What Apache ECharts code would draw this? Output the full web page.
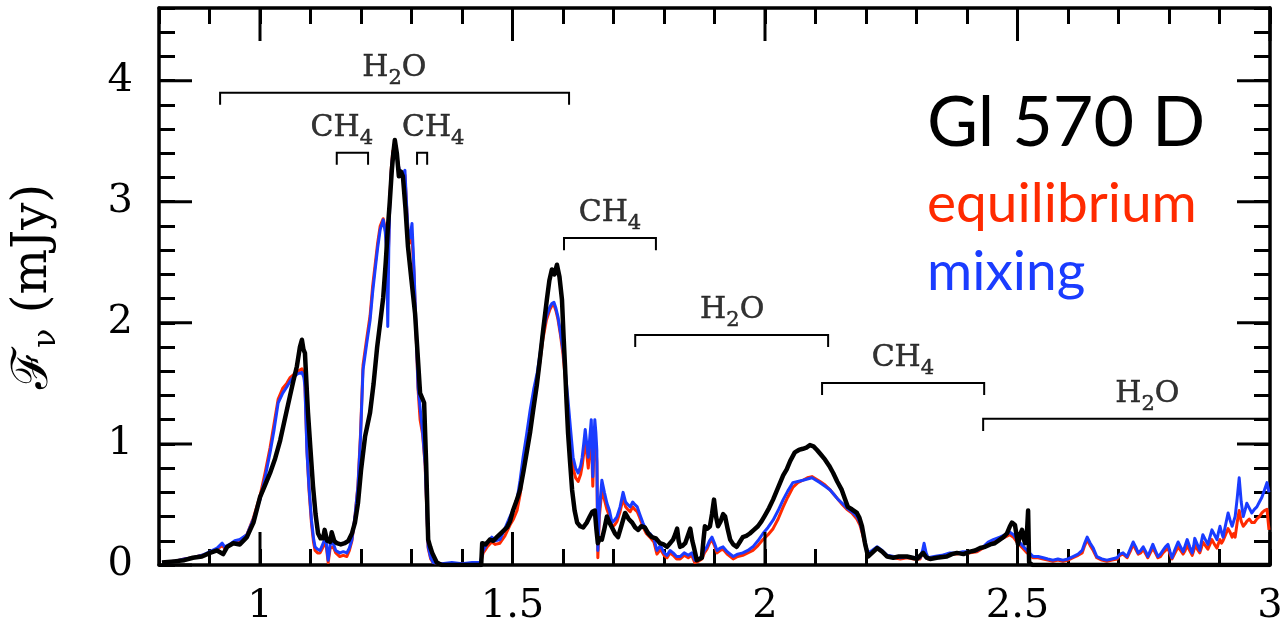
<!DOCTYPE html>
<html>
<head>
<meta charset="utf-8">
<title>Gl 570 D spectrum</title>
<script src="https://cdn.jsdelivr.net/npm/echarts@6/dist/echarts.min.js"></script>
<style>
  html, body { margin: 0; padding: 0; background: #fff; }
  #chart { width: 1287px; height: 636px; }
</style>
</head>
<body>
<div id="chart"></div>
<script>
// Wavelength (micron) / flux density (mJy) pairs
const observed = [
  [0.806,0.02],[0.830,0.03],[0.850,0.04],[0.867,0.06],[0.885,0.07],[0.901,0.10],[0.915,0.12],[0.927,0.09],
  [0.935,0.15],[0.947,0.18],[0.960,0.17],[0.974,0.23],[0.987,0.35],[1.000,0.56],[1.010,0.66],[1.020,0.76],
  [1.030,0.88],[1.040,1.03],[1.050,1.22],[1.059,1.39],[1.066,1.52],[1.073,1.64],[1.079,1.80],[1.083,1.86],
  [1.086,1.78],[1.089,1.75],[1.092,1.50],[1.095,1.26],[1.100,0.95],[1.105,0.65],[1.110,0.42],[1.115,0.26],
  [1.120,0.22],[1.125,0.22],[1.128,0.29],[1.133,0.20],[1.139,0.19],[1.142,0.27],[1.147,0.20],[1.152,0.18],
  [1.160,0.17],[1.168,0.18],[1.175,0.20],[1.182,0.26],[1.188,0.35],[1.194,0.51],[1.200,0.78],[1.208,1.06],
  [1.218,1.26],[1.225,1.50],[1.232,1.80],[1.238,2.00],[1.244,2.21],[1.249,2.50],[1.253,2.77],[1.257,3.00],
  [1.261,3.26],[1.264,3.40],[1.267,3.51],[1.271,3.40],[1.275,3.21],[1.279,3.25],[1.283,3.21],[1.288,2.95],
  [1.293,2.63],[1.300,2.35],[1.307,2.08],[1.312,1.75],[1.317,1.42],[1.321,1.38],[1.325,1.34],[1.329,0.84],
  [1.333,0.21],[1.337,0.15],[1.341,0.10],[1.350,0.02],[1.360,0.00],[1.400,0.00],[1.438,0.00],[1.440,0.18],
  [1.447,0.17],[1.455,0.21],[1.462,0.20],[1.469,0.23],[1.479,0.27],[1.489,0.31],[1.495,0.36],[1.501,0.45],
  [1.508,0.53],[1.515,0.62],[1.522,0.78],[1.529,0.95],[1.535,1.10],[1.541,1.28],[1.548,1.48],[1.554,1.69],
  [1.561,1.95],[1.568,2.19],[1.573,2.35],[1.578,2.44],[1.583,2.40],[1.588,2.48],[1.593,2.38],[1.598,2.19],
  [1.601,1.90],[1.604,1.64],[1.607,1.35],[1.610,1.09],[1.614,0.85],[1.618,0.62],[1.623,0.45],[1.628,0.35],
  [1.634,0.32],[1.640,0.31],[1.647,0.35],[1.653,0.40],[1.658,0.44],[1.663,0.45],[1.666,0.30],[1.669,0.18],
  [1.673,0.22],[1.677,0.21],[1.682,0.30],[1.687,0.40],[1.692,0.35],[1.697,0.31],[1.703,0.26],[1.709,0.23],
  [1.716,0.33],[1.723,0.43],[1.730,0.38],[1.737,0.35],[1.743,0.31],[1.749,0.29],[1.755,0.32],[1.762,0.31],
  [1.769,0.26],[1.776,0.23],[1.784,0.22],[1.792,0.18],[1.799,0.17],[1.806,0.15],[1.812,0.18],[1.818,0.21],
  [1.822,0.25],[1.826,0.30],[1.829,0.20],[1.832,0.15],[1.837,0.16],[1.842,0.18],[1.847,0.24],[1.852,0.30],
  [1.856,0.20],[1.859,0.15],[1.865,0.04],[1.870,0.05],[1.875,0.06],[1.878,0.20],[1.881,0.32],[1.886,0.30],
  [1.891,0.32],[1.895,0.42],[1.899,0.54],[1.903,0.40],[1.907,0.32],[1.912,0.36],[1.917,0.42],[1.921,0.40],
  [1.926,0.30],[1.931,0.21],[1.937,0.17],[1.944,0.15],[1.950,0.19],[1.956,0.23],[1.963,0.24],[1.970,0.26],
  [1.978,0.29],[1.986,0.32],[1.993,0.36],[2.000,0.41],[2.008,0.47],[2.016,0.54],[2.023,0.61],[2.030,0.68],
  [2.036,0.74],[2.043,0.79],[2.050,0.86],[2.059,0.93],[2.067,0.95],[2.075,0.96],[2.082,0.97],[2.089,0.99],
  [2.096,0.98],[2.103,0.95],[2.111,0.91],[2.119,0.87],[2.127,0.82],[2.135,0.76],[2.143,0.69],[2.152,0.62],
  [2.158,0.55],[2.164,0.48],[2.172,0.46],[2.182,0.43],[2.187,0.39],[2.192,0.32],[2.198,0.18],[2.204,0.07],
  [2.212,0.10],[2.222,0.14],[2.232,0.11],[2.242,0.07],[2.254,0.06],[2.265,0.07],[2.281,0.07],[2.292,0.06],
  [2.301,0.05],[2.308,0.08],[2.313,0.10],[2.320,0.06],[2.327,0.05],[2.340,0.06],[2.360,0.07],[2.370,0.09],
  [2.380,0.10],[2.393,0.09],[2.406,0.11],[2.416,0.12],[2.426,0.14],[2.436,0.15],[2.446,0.17],[2.455,0.18],
  [2.465,0.21],[2.472,0.23],[2.479,0.26],[2.485,0.32],[2.489,0.35],[2.495,0.33],[2.498,0.25],[2.501,0.17],
  [2.505,0.25],[2.509,0.29],[2.512,0.22],[2.515,0.18],[2.519,0.29],[2.521,0.45],[2.523,0.02],[2.530,0.00],
  [3.000,0.00]
];

const equilibrium = [
  [0.806,0.02],[0.830,0.03],[0.850,0.05],[0.867,0.06],[0.885,0.08],[0.901,0.10],[0.915,0.13],[0.925,0.16],
  [0.930,0.14],[0.940,0.16],[0.950,0.19],[0.960,0.20],[0.974,0.25],[0.987,0.39],[1.000,0.57],[1.010,0.76],
  [1.020,0.97],[1.028,1.17],[1.036,1.37],[1.045,1.46],[1.053,1.50],[1.060,1.55],[1.066,1.57],[1.075,1.60],
  [1.083,1.62],[1.087,1.57],[1.089,1.49],[1.093,0.95],[1.097,0.62],[1.102,0.34],[1.106,0.19],[1.109,0.12],
  [1.114,0.10],[1.119,0.10],[1.125,0.15],[1.130,0.20],[1.135,0.02],[1.139,0.14],[1.145,0.15],[1.150,0.10],
  [1.158,0.07],[1.165,0.08],[1.172,0.07],[1.177,0.12],[1.182,0.20],[1.188,0.40],[1.194,0.66],[1.199,1.08],
  [1.204,1.65],[1.211,1.86],[1.218,2.06],[1.223,2.30],[1.228,2.48],[1.233,2.66],[1.238,2.80],[1.244,2.86],
  [1.248,2.78],[1.251,2.62],[1.253,2.40],[1.255,2.70],[1.257,3.02],[1.260,3.28],[1.263,3.42],[1.267,3.44],
  [1.271,3.38],[1.274,3.30],[1.277,3.22],[1.282,3.20],[1.287,3.22],[1.290,2.98],[1.293,2.76],[1.297,2.66],
  [1.301,2.72],[1.305,2.40],[1.309,1.92],[1.313,1.45],[1.317,1.20],[1.322,1.08],[1.327,0.82],[1.330,0.48],
  [1.333,0.14],[1.338,0.05],[1.343,0.02],[1.360,0.01],[1.380,0.01],[1.400,0.01],[1.420,0.01],[1.436,0.01],
  [1.442,0.10],[1.450,0.15],[1.459,0.19],[1.466,0.17],[1.475,0.18],[1.485,0.24],[1.495,0.33],[1.502,0.38],
  [1.509,0.45],[1.515,0.58],[1.521,0.78],[1.528,0.98],[1.535,1.18],[1.542,1.38],[1.549,1.52],[1.555,1.70],
  [1.560,1.86],[1.567,2.02],[1.574,2.11],[1.578,2.14],[1.582,2.15],[1.586,2.10],[1.590,2.03],[1.595,1.90],
  [1.600,1.74],[1.605,1.52],[1.610,1.28],[1.615,1.02],[1.620,0.80],[1.625,0.72],[1.630,0.69],[1.635,0.75],
  [1.638,0.82],[1.641,0.92],[1.644,1.04],[1.647,0.92],[1.650,0.80],[1.653,0.95],[1.656,1.08],[1.659,0.65],
  [1.661,0.90],[1.663,1.08],[1.665,1.00],[1.667,0.85],[1.669,0.06],[1.672,0.40],[1.677,0.62],[1.682,0.54],
  [1.687,0.46],[1.692,0.40],[1.697,0.31],[1.702,0.33],[1.707,0.36],[1.713,0.44],[1.719,0.55],[1.724,0.48],
  [1.728,0.46],[1.733,0.44],[1.738,0.48],[1.742,0.46],[1.747,0.44],[1.752,0.39],[1.758,0.32],[1.765,0.26],
  [1.772,0.23],[1.780,0.19],[1.786,0.09],[1.793,0.13],[1.800,0.08],[1.806,0.06],[1.812,0.10],[1.818,0.08],
  [1.825,0.05],[1.832,0.05],[1.840,0.08],[1.848,0.06],[1.855,0.08],[1.861,0.02],[1.868,0.03],[1.875,0.05],
  [1.880,0.10],[1.885,0.13],[1.890,0.18],[1.895,0.21],[1.900,0.16],[1.905,0.10],[1.911,0.12],[1.917,0.13],
  [1.925,0.09],[1.937,0.05],[1.946,0.07],[1.956,0.08],[1.966,0.10],[1.976,0.12],[1.986,0.16],[1.996,0.21],
  [2.006,0.25],[2.016,0.30],[2.026,0.38],[2.036,0.48],[2.045,0.56],[2.055,0.64],[2.065,0.68],[2.075,0.70],
  [2.084,0.72],[2.093,0.73],[2.101,0.71],[2.109,0.69],[2.119,0.66],[2.129,0.62],[2.137,0.58],[2.145,0.54],
  [2.153,0.50],[2.162,0.46],[2.172,0.43],[2.182,0.38],[2.188,0.33],[2.194,0.24],[2.199,0.15],[2.204,0.09],
  [2.212,0.11],[2.222,0.14],[2.232,0.11],[2.242,0.07],[2.255,0.06],[2.268,0.05],[2.281,0.06],[2.295,0.05],
  [2.307,0.05],[2.312,0.10],[2.315,0.15],[2.319,0.08],[2.323,0.05],[2.335,0.06],[2.350,0.07],[2.366,0.09],
  [2.380,0.09],[2.392,0.10],[2.406,0.10],[2.420,0.11],[2.432,0.14],[2.442,0.17],[2.452,0.19],[2.465,0.21],
  [2.475,0.23],[2.485,0.25],[2.492,0.23],[2.499,0.19],[2.510,0.14],[2.519,0.10],[2.531,0.06],[2.541,0.06],
  [2.551,0.05],[2.560,0.04],[2.570,0.03],[2.580,0.04],[2.590,0.03],[2.600,0.04],[2.610,0.06],[2.620,0.08],
  [2.628,0.10],[2.633,0.16],[2.638,0.21],[2.644,0.16],[2.650,0.12],[2.657,0.06],[2.667,0.04],[2.677,0.03],
  [2.687,0.04],[2.697,0.05],[2.703,0.08],[2.709,0.09],[2.717,0.06],[2.723,0.11],[2.729,0.17],[2.734,0.13],
  [2.739,0.09],[2.744,0.10],[2.749,0.13],[2.754,0.09],[2.758,0.06],[2.763,0.10],[2.768,0.14],[2.773,0.10],
  [2.778,0.06],[2.783,0.07],[2.788,0.10],[2.793,0.12],[2.798,0.14],[2.802,0.09],[2.806,0.05],[2.812,0.10],
  [2.818,0.15],[2.823,0.12],[2.828,0.09],[2.832,0.12],[2.836,0.16],[2.841,0.12],[2.846,0.08],[2.849,0.12],
  [2.851,0.17],[2.856,0.13],[2.861,0.10],[2.864,0.14],[2.867,0.19],[2.872,0.16],[2.877,0.13],[2.881,0.17],
  [2.885,0.21],[2.890,0.17],[2.895,0.14],[2.898,0.18],[2.901,0.21],[2.904,0.18],[2.907,0.20],[2.912,0.25],
  [2.917,0.30],[2.921,0.27],[2.925,0.23],[2.928,0.26],[2.931,0.23],[2.935,0.35],[2.939,0.45],[2.943,0.36],
  [2.947,0.32],[2.951,0.34],[2.954,0.36],[2.959,0.38],[2.964,0.35],[2.969,0.35],[2.974,0.38],[2.979,0.40],
  [2.984,0.43],[2.989,0.45],[2.994,0.46],[2.998,0.29]
];

const mixing = [
  [0.806,0.02],[0.830,0.03],[0.850,0.05],[0.867,0.06],[0.885,0.08],[0.901,0.11],[0.915,0.14],[0.925,0.18],
  [0.930,0.15],[0.940,0.17],[0.950,0.20],[0.960,0.21],[0.974,0.25],[0.987,0.38],[1.000,0.54],[1.010,0.72],
  [1.020,0.93],[1.028,1.12],[1.036,1.34],[1.045,1.42],[1.053,1.47],[1.060,1.52],[1.066,1.55],[1.075,1.58],
  [1.083,1.59],[1.087,1.55],[1.089,1.47],[1.093,0.93],[1.097,0.65],[1.102,0.37],[1.106,0.22],[1.109,0.15],
  [1.114,0.13],[1.119,0.12],[1.125,0.18],[1.130,0.23],[1.135,0.04],[1.139,0.17],[1.145,0.18],[1.150,0.12],
  [1.158,0.10],[1.165,0.11],[1.172,0.10],[1.177,0.14],[1.182,0.21],[1.188,0.40],[1.194,0.65],[1.199,1.05],
  [1.204,1.61],[1.211,1.82],[1.218,2.02],[1.223,2.25],[1.228,2.44],[1.233,2.62],[1.238,2.77],[1.244,2.85],
  [1.248,2.75],[1.251,2.58],[1.253,1.97],[1.255,2.60],[1.257,2.99],[1.260,3.25],[1.263,3.40],[1.267,3.42],
  [1.271,3.37],[1.274,3.30],[1.277,3.24],[1.282,3.22],[1.287,3.26],[1.290,3.00],[1.293,2.77],[1.297,2.70],
  [1.301,2.82],[1.305,2.44],[1.309,1.95],[1.313,1.47],[1.317,1.30],[1.322,1.10],[1.327,0.84],[1.330,0.50],
  [1.333,0.15],[1.338,0.06],[1.343,0.02],[1.360,0.01],[1.380,0.02],[1.400,0.01],[1.420,0.02],[1.436,0.02],
  [1.442,0.12],[1.450,0.18],[1.459,0.23],[1.466,0.20],[1.475,0.21],[1.485,0.30],[1.495,0.40],[1.502,0.46],
  [1.509,0.54],[1.515,0.70],[1.521,0.89],[1.528,1.08],[1.535,1.28],[1.542,1.45],[1.549,1.59],[1.555,1.76],
  [1.560,1.92],[1.567,2.05],[1.574,2.13],[1.578,2.16],[1.582,2.17],[1.586,2.12],[1.590,2.05],[1.595,1.92],
  [1.600,1.78],[1.605,1.58],[1.610,1.36],[1.615,1.12],[1.620,0.89],[1.625,0.80],[1.630,0.76],[1.635,0.82],
  [1.638,0.89],[1.641,1.00],[1.644,1.12],[1.647,1.00],[1.650,0.89],[1.653,1.05],[1.656,1.20],[1.659,0.73],
  [1.661,1.00],[1.663,1.20],[1.665,1.10],[1.667,0.95],[1.669,0.12],[1.672,0.45],[1.677,0.70],[1.682,0.60],
  [1.687,0.51],[1.692,0.45],[1.697,0.35],[1.702,0.37],[1.707,0.40],[1.713,0.48],[1.719,0.60],[1.724,0.52],
  [1.728,0.50],[1.733,0.48],[1.738,0.52],[1.742,0.50],[1.747,0.48],[1.752,0.42],[1.758,0.35],[1.765,0.28],
  [1.772,0.26],[1.780,0.22],[1.786,0.12],[1.793,0.16],[1.800,0.10],[1.806,0.08],[1.812,0.12],[1.818,0.10],
  [1.825,0.07],[1.832,0.07],[1.840,0.10],[1.848,0.08],[1.855,0.10],[1.861,0.04],[1.868,0.05],[1.875,0.07],
  [1.880,0.12],[1.885,0.15],[1.890,0.20],[1.895,0.23],[1.900,0.18],[1.905,0.12],[1.911,0.14],[1.917,0.15],
  [1.925,0.11],[1.937,0.07],[1.946,0.09],[1.956,0.10],[1.966,0.12],[1.976,0.15],[1.986,0.20],[1.996,0.26],
  [2.006,0.31],[2.016,0.37],[2.026,0.45],[2.036,0.54],[2.045,0.61],[2.055,0.68],[2.065,0.69],[2.075,0.70],
  [2.084,0.71],[2.093,0.72],[2.101,0.70],[2.109,0.68],[2.119,0.65],[2.129,0.62],[2.137,0.58],[2.145,0.54],
  [2.153,0.51],[2.162,0.47],[2.172,0.44],[2.182,0.40],[2.188,0.35],[2.194,0.26],[2.199,0.17],[2.204,0.10],
  [2.212,0.12],[2.222,0.15],[2.232,0.12],[2.242,0.08],[2.255,0.07],[2.268,0.06],[2.281,0.07],[2.295,0.06],
  [2.307,0.06],[2.312,0.12],[2.315,0.18],[2.319,0.10],[2.323,0.06],[2.335,0.07],[2.350,0.08],[2.366,0.10],
  [2.380,0.10],[2.392,0.11],[2.406,0.11],[2.420,0.12],[2.432,0.15],[2.442,0.19],[2.452,0.21],[2.465,0.23],
  [2.475,0.25],[2.485,0.27],[2.492,0.25],[2.499,0.21],[2.510,0.16],[2.519,0.12],[2.531,0.07],[2.541,0.07],
  [2.551,0.06],[2.560,0.05],[2.570,0.04],[2.580,0.05],[2.590,0.04],[2.600,0.05],[2.610,0.07],[2.620,0.09],
  [2.628,0.12],[2.633,0.18],[2.638,0.23],[2.644,0.18],[2.650,0.14],[2.657,0.07],[2.667,0.05],[2.677,0.04],
  [2.687,0.05],[2.697,0.06],[2.703,0.09],[2.709,0.10],[2.717,0.07],[2.723,0.13],[2.729,0.19],[2.734,0.15],
  [2.739,0.10],[2.744,0.12],[2.749,0.15],[2.754,0.11],[2.758,0.07],[2.763,0.12],[2.768,0.17],[2.773,0.12],
  [2.778,0.07],[2.783,0.09],[2.788,0.12],[2.793,0.15],[2.798,0.17],[2.802,0.11],[2.806,0.06],[2.812,0.13],
  [2.818,0.19],[2.823,0.15],[2.828,0.11],[2.832,0.16],[2.836,0.21],[2.841,0.15],[2.846,0.10],[2.849,0.16],
  [2.851,0.22],[2.856,0.17],[2.861,0.12],[2.864,0.19],[2.867,0.25],[2.872,0.21],[2.877,0.17],[2.881,0.23],
  [2.885,0.29],[2.890,0.25],[2.895,0.21],[2.898,0.27],[2.901,0.32],[2.904,0.27],[2.907,0.23],[2.912,0.33],
  [2.917,0.43],[2.921,0.37],[2.925,0.32],[2.928,0.36],[2.931,0.40],[2.935,0.55],[2.939,0.72],[2.943,0.52],
  [2.947,0.40],[2.951,0.46],[2.954,0.51],[2.959,0.47],[2.964,0.43],[2.969,0.46],[2.974,0.48],[2.979,0.52],
  [2.984,0.56],[2.989,0.62],[2.994,0.68],[2.998,0.60]
];

// Absorption bands: species, wavelength range, bracket level (mJy), label centre
const bandSpecies = ['H2O', 'CH4', 'CH4', 'CH4', 'H2O', 'CH4', 'H2O'];
const bandStart   = [0.921, 1.152, 1.311, 1.602, 1.743, 2.113, 2.432];
const bandEnd     = [1.612, 1.214, 1.331, 1.784, 2.125, 2.434, 3.000];
const bandLevel   = [3.90, 3.405, 3.405, 2.70, 1.90, 1.504, 1.207];
const bandLabelX  = [1.266, 1.162, 1.343, 1.693, 1.935, 2.273, 2.757];

// Axis ticks
const xMajorTicks = [1, 1.5, 2, 2.5, 3];
const yMajorTicks = [0, 1, 2, 3, 4];
const xRange = [0.8, 3.0];
const yRange = [0, 4.6];

const SERIF = 'DejaVu Serif, Liberation Serif, serif';
const BLACK = '#000000';
const RED = '#ff2a00';
const BLUE = '#1a3cff';

const chart = echarts.init(document.getElementById('chart'), null, { renderer: 'canvas' });

function tickLabel(v) {
  return String(Math.round(v * 2) / 2);
}

// Each side of the frame: an axis carrying the line + labels, and one carrying the minor ticks.
function frameAxis(dim, position, withLabels) {
  const isX = dim === 'x';
  const range = isX ? xRange : yRange;
  const majors = isX ? xMajorTicks : yMajorTicks;
  return [
    {
      type: 'value', position, min: range[0], max: range[1],
      axisLine: { show: true, onZero: false, lineStyle: { color: BLACK, width: 3.5 } },
      axisTick: { show: false },
      axisLabel: withLabels ? {
        show: true, customValues: majors, formatter: tickLabel,
        fontFamily: SERIF, fontSize: 40, color: BLACK, margin: isX ? 22 : 26
      } : { show: false },
      splitLine: { show: false }
    },
    {
      type: 'value', position, min: range[0], max: range[1], interval: isX ? 0.1 : 0.2,
      axisLine: { show: false, onZero: false },
      axisTick: { show: true, inside: true, length: 16, lineStyle: { color: BLACK, width: 3 } },
      axisLabel: { show: false },
      splitLine: { show: false }
    }
  ];
}

const xAxes = [...frameAxis('x', 'bottom', true), ...frameAxis('x', 'top', false)];
const yAxes = [...frameAxis('y', 'left', true), ...frameAxis('y', 'right', false)];

yAxes[0].name = '{f|\u2131}{nu|\u03bd} (mJy)';
yAxes[0].nameLocation = 'middle';
yAxes[0].nameRotate = 90;
yAxes[0].nameGap = 96;
yAxes[0].nameTextStyle = {
  fontFamily: SERIF, fontSize: 48, color: BLACK,
  rich: {
    f: { fontFamily: SERIF, fontSize: 50, color: BLACK },
    nu: { fontFamily: SERIF, fontSize: 32, color: BLACK, padding: [26, 0, 0, 0] }
  }
};

// "CH4" -> "{m|CH}{s|4}", "H2O" -> "{m|H}{s|2}{m|O}"
function speciesText(s) {
  return ('{m|' + s.replace(/(\d+)/g, '}{s|$1}{m|') + '}').replace(/\{m\|\}/g, '');
}

const bracketData = bandStart.map((s, i) => [s, bandEnd[i], bandLevel[i]]);
const bandLabelData = bandLabelX.map((x, i) => ({ value: [x, bandLevel[i]], name: bandSpecies[i] }));
const majorTickData = [
  ...xMajorTicks.map(v => [v, 0]),
  ...yMajorTicks.map(v => [v, 1])
];

const option = {
  animation: false,
  backgroundColor: '#ffffff',
  grid: { left: 159, right: 17, top: 8, bottom: 71, containLabel: false },
  xAxis: xAxes,
  yAxis: yAxes,
  series: [
    {
      name: 'equilibrium', type: 'line', data: equilibrium,
      showSymbol: false, symbol: 'none', clip: true, z: 3,
      lineStyle: { color: RED, width: 3, join: 'round' }
    },
    {
      name: 'mixing', type: 'line', data: mixing,
      showSymbol: false, symbol: 'none', clip: true, z: 4,
      lineStyle: { color: BLUE, width: 3, join: 'round' }
    },
    {
      name: 'Gl 570 D', type: 'line', data: observed,
      showSymbol: false, symbol: 'none', clip: true, z: 5,
      lineStyle: { color: BLACK, width: 4.5, join: 'round' }
    },
    {
      // long ticks at the labelled values, on all four sides of the frame
      name: 'major ticks', type: 'custom', data: majorTickData, z: 8, silent: true,
      renderItem(params, api) {
        const v = api.value(0), isY = api.value(1) === 1;
        const len = 33;
        const lo = api.coord([xRange[0], yRange[0]]);
        const hi = api.coord([xRange[1], yRange[1]]);
        let a, b;
        if (!isY) {
          const x = api.coord([v, yRange[0]])[0];
          a = [[x, lo[1]], [x, lo[1] - len]];
          b = [[x, hi[1]], [x, hi[1] + len]];
        } else {
          const y = api.coord([xRange[0], v])[1];
          a = [[lo[0], y], [lo[0] + len, y]];
          b = [[hi[0], y], [hi[0] - len, y]];
        }
        const st = { stroke: BLACK, lineWidth: 3 };
        return {
          type: 'group',
          children: [
            { type: 'polyline', shape: { points: a }, style: st },
            { type: 'polyline', shape: { points: b }, style: st }
          ]
        };
      }
    },
    {
      name: 'bands', type: 'custom', data: bracketData, z: 6, silent: true,
      renderItem(params, api) {
        const x0 = api.value(0), x1 = api.value(1), lv = api.value(2);
        const a = api.coord([x0, lv]);
        const b = api.coord([x1, lv]);
        const drop = api.coord([x0, lv - 0.1])[1];
        const pts = [[a[0], drop], a, b];
        if (x1 < xRange[1]) pts.push([b[0], drop]);
        return {
          type: 'polyline',
          shape: { points: pts },
          style: { stroke: BLACK, lineWidth: 2, fill: null }
        };
      }
    },
    {
      name: 'band labels', type: 'scatter', data: bandLabelData, z: 7,
      symbolSize: 0, silent: true,
      itemStyle: { color: BLACK },
      label: {
        show: true, position: 'top', distance: 4, color: BLACK,
        formatter: (p) => speciesText(p.name),
        rich: {
          m: { fontFamily: SERIF, fontSize: 30, color: BLACK, textBorderColor: BLACK, textBorderWidth: 0.5 },
          s: { fontFamily: SERIF, fontSize: 21, color: BLACK, textBorderColor: BLACK, textBorderWidth: 0.5,
               padding: [20, 0, 0, 0] }
        }
      }
    }
  ],
  graphic: [
    { type: 'text', left: 927, top: 88,
      style: { text: 'Gl 570 D', font: '70px Lato, "Open Sans", sans-serif', fill: BLACK } },
    { type: 'text', left: 927, top: 177,
      style: { text: 'equilibrium', font: '55px Lato, "Open Sans", sans-serif', fill: RED } },
    { type: 'text', left: 927, top: 245,
      style: { text: 'mixing', font: '55px Lato, "Open Sans", sans-serif', fill: BLUE } }
  ]
};

chart.setOption(option);
</script>
</body>
</html>
